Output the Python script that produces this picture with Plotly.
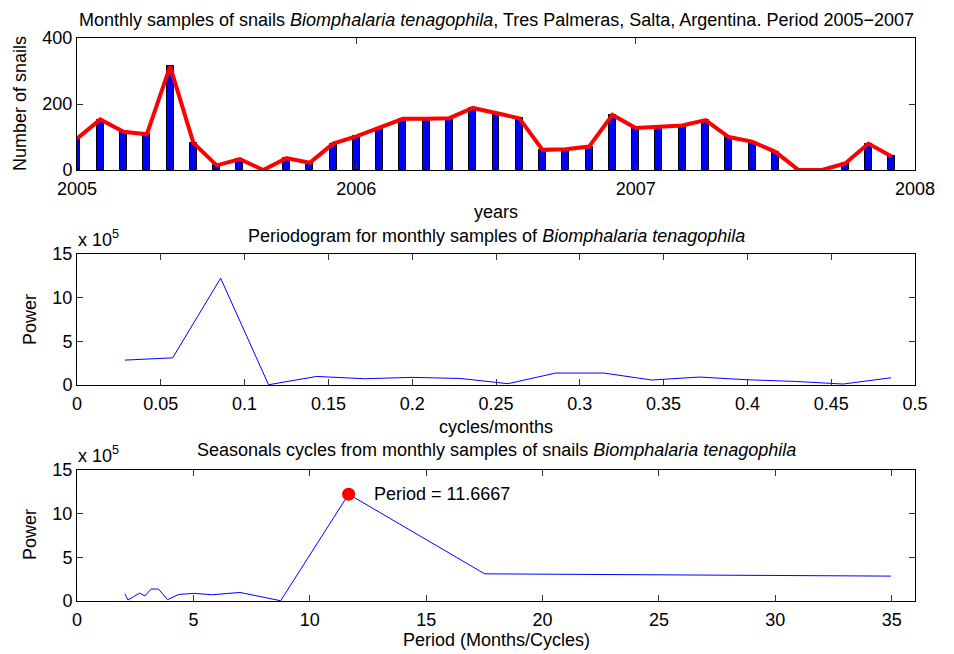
import plotly.graph_objects as go

# ---------------- data ----------------
month_index = list(range(36))  # Jan 2005 .. Dec 2007
snails = [95, 153, 116, 108, 314, 82, 14, 33, 0, 36, 22, 80,
          102, 128, 155, 155, 157, 188, 172, 157, 61, 63, 71, 167,
          127, 131, 135, 151, 100, 86, 55, 0, 0, 20, 80, 41]

freq = [0.0286, 0.0571, 0.0857, 0.1143, 0.1429, 0.1714, 0.2000, 0.2286, 0.2571,
        0.2857, 0.3143, 0.3429, 0.3714, 0.4000, 0.4286, 0.4571, 0.4857]
power = [2.85e5, 3.11e5, 12.23e5, 0.03e5, 0.98e5, 0.72e5, 0.87e5, 0.75e5, 0.15e5,
         1.37e5, 1.37e5, 0.57e5, 0.91e5, 0.60e5, 0.41e5, 0.11e5, 0.83e5]

year_ticks = [2005, 2006, 2007, 2008]
freq_ticks = [0, 0.05, 0.1, 0.15, 0.2, 0.25, 0.3, 0.35, 0.4, 0.45, 0.5]
period_ticks = [0, 5, 10, 15, 20, 25, 30, 35]
power_ticks = [0, 5e5, 10e5, 15e5]
power_ticktext = ["0", "5", "10", "15"]
snail_ticks = [0, 200, 400]

# ---------------- derived ----------------
xdates = [2005 + m / 12 for m in month_index]
period = [1 / f for f in freq]
ipk = max(range(len(power)), key=lambda i: power[i])
peak_period = 35 / 3  # = 1/freq[ipk] exactly

FONT = "Liberation Sans, Arial, Helvetica, sans-serif"
FS = 18

fig = go.Figure()

# panel 1
fig.add_trace(go.Bar(x=xdates, y=snails, width=0.3 / 12,
                     marker=dict(color="#0000ff", line=dict(color="black", width=1)),
                     xaxis="x", yaxis="y", showlegend=False))
fig.add_trace(go.Scatter(x=xdates, y=snails, mode="lines",
                         line=dict(color="#ff0000", width=4),
                         xaxis="x", yaxis="y", showlegend=False))
# panel 2
fig.add_trace(go.Scatter(x=freq, y=power, mode="lines",
                         line=dict(color="#0000ff", width=1),
                         xaxis="x2", yaxis="y2", showlegend=False))
# panel 3
fig.add_trace(go.Scatter(x=period, y=power, mode="lines",
                         line=dict(color="#0000ff", width=1),
                         xaxis="x3", yaxis="y3", showlegend=False))
fig.add_trace(go.Scatter(x=[period[ipk]], y=[power[ipk]], mode="markers",
                         marker=dict(color="#ff0000", size=13),
                         xaxis="x3", yaxis="y3", showlegend=False))

axis_common = dict(showline=True, linecolor="black", linewidth=1, mirror="ticks",
                   ticks="inside", ticklen=6, tickcolor="#333333", tickwidth=1,
                   showgrid=False, zeroline=False,
                   tickfont=dict(family=FONT, size=FS, color="black"))

H = 654
top, bottom = 38, 53
ph = H - top - bottom


def py(p):
    return (H - bottom - p) / ph


def px(p):
    return (p - 77) / 838


fig.update_layout(
    width=954, height=654,
    margin=dict(l=77, r=39, t=top, b=bottom),
    paper_bgcolor="white", plot_bgcolor="white",
    font=dict(family=FONT, size=FS, color="black"),
    bargap=0,
    xaxis=dict(domain=[0, 1], anchor="y", range=[2005, 2008], ticklabelstandoff=2,
               tickvals=year_ticks, ticktext=[str(t) for t in year_ticks], **axis_common),
    yaxis=dict(domain=[py(170), 1], anchor="x", range=[0, 400],
               tickvals=snail_ticks, **axis_common),
    xaxis2=dict(domain=[0, 1], anchor="y2", range=[0, 0.5], ticklabelstandoff=2,
                tickvals=freq_ticks, ticktext=[f"{t:g}" for t in freq_ticks], **axis_common),
    yaxis2=dict(domain=[py(385), py(254)], anchor="x2", range=[0, 15e5],
                tickvals=power_ticks, ticktext=power_ticktext, **axis_common),
    xaxis3=dict(domain=[0, 1], anchor="y3", range=[0, 36], ticklabelstandoff=2,
                tickvals=period_ticks, **axis_common),
    yaxis3=dict(domain=[0, py(470)], anchor="x3", range=[0, 15e5],
                tickvals=power_ticks, ticktext=power_ticktext, **axis_common),
)

ann = []


def txt(text, x, y, xanchor="center", yanchor="middle", angle=0, xref="paper", yref="paper"):
    ann.append(dict(text=text, x=x, y=y, xref=xref, yref=yref, showarrow=False,
                    xanchor=xanchor, yanchor=yanchor, textangle=angle,
                    font=dict(family=FONT, size=FS, color="black")))


txt("Monthly samples of snails <i>Biomphalaria tenagophila</i>, Tres Palmeras, Salta, Argentina. Period 2005\u22122007",
    0.5, py(20))
txt("years", 0.5, py(212))
txt("Number of snails", px(20), py(104), angle=-90)

txt("Periodogram for monthly samples of <i>Biomphalaria tenagophila</i>", 0.5, py(236))
txt("x 10<sup>5</sup>", px(76), py(239), xanchor="left")
txt("cycles/months", 0.5, py(427))
txt("Power", px(30), py(320), angle=-90)

txt("Seasonals cycles from monthly samples of snails <i>Biomphalaria tenagophila</i>", 0.5, py(450))
txt("x 10<sup>5</sup>", px(76), py(454), xanchor="left")
txt("Period (Months/Cycles)", 0.5, py(640))
txt("Power", px(30), py(535), angle=-90)

txt(f"Period = {peak_period:.4f}", period[ipk] + 1.0, power[ipk], xanchor="left",
    xref="x3", yref="y3")

fig.update_layout(annotations=ann)

fig.write_html("out.html")
